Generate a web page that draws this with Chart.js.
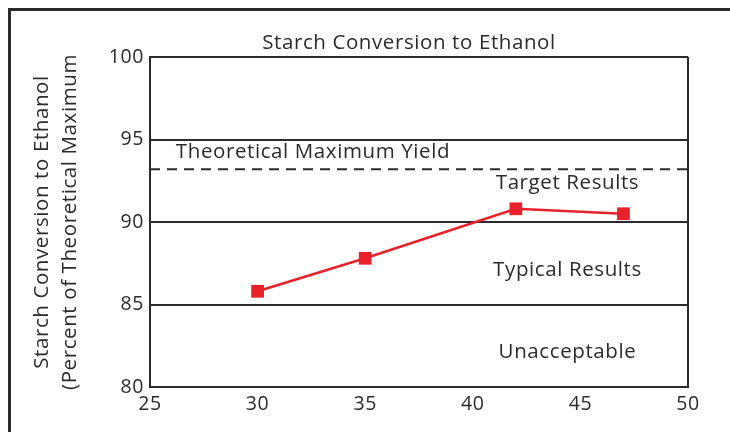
<!DOCTYPE html>
<html>
<head>
<meta charset="utf-8">
<script src="https://cdn.jsdelivr.net/npm/chart.js"></script>
<style>
  html, body { margin: 0; padding: 0; background: #fff; overflow: hidden; }
  #wrap { position: relative; width: 730px; height: 432px; }
  #frame { position: absolute; left: 8px; top: 8px; width: 780px; height: 480px; border: 3px solid #2b2b2b; box-sizing: border-box; }
  canvas { position: absolute; left: 0; top: 0; }
</style>
</head>
<body>
<div id="wrap">
  <div id="frame"></div>
  <canvas id="chart" width="730" height="432"></canvas>
</div>
<script>
// data
const xValues = [30, 35, 42, 47];
const conversion = [85.8, 87.8, 90.8, 90.5];
const theoreticalMax = 93.2;
const xRange = [25, 50];
const xTicks = [25, 30, 35, 40, 45, 50];
const yTicks = [80, 85, 90, 95, 100];
const zoneLabels = ['Theoretical Maximum Yield', 'Target Results', 'Typical Results', 'Unacceptable'];

const FONT = '"Open Sans", sans-serif';
const INK = '#2b2b2b';

// where the zone labels sit, in data units
const zoneSpots = [
  { x: 26.2, y: 94.25, align: 'left' },
  { x: 44.4, y: 92.35, align: 'center' },
  { x: 44.4, y: 87.1, align: 'center' },
  { x: 44.4, y: 82.1, align: 'center' }
];

const labelsPlugin = {
  id: 'zoneLabels',
  beforeDraw(chart) {
    // the original face is a bit wider than Open Sans
    chart.ctx.letterSpacing = '0.6px';
  },
  afterDatasetsDraw(chart) {
    const { ctx, chartArea, scales } = chart;
    ctx.save();
    ctx.fillStyle = INK;
    ctx.font = '20.5px ' + FONT;
    ctx.textBaseline = 'middle';
    zoneLabels.forEach((txt, i) => {
      const s = zoneSpots[i];
      ctx.textAlign = s.align;
      ctx.fillText(txt, scales.x.getPixelForValue(s.x), scales.y.getPixelForValue(s.y));
    });
    // chart title
    ctx.textAlign = 'center';
    ctx.fillText('Starch Conversion to Ethanol', (chartArea.left + chartArea.right) / 2 - 10, 43);
    ctx.restore();
  }
};

const ctx = document.getElementById('chart').getContext('2d');
new Chart(ctx, {
  type: 'line',
  data: {
    datasets: [
      {
        data: xValues.map((x, i) => ({ x: x, y: conversion[i] })),
        borderColor: '#e8212b',
        backgroundColor: '#e8212b',
        borderWidth: 2.5,
        pointStyle: 'rect',
        pointRadius: 9,
        pointBorderWidth: 0
      },
      {
        data: xRange.map(x => ({ x: x, y: theoreticalMax })),
        borderColor: INK,
        borderWidth: 2,
        borderDash: [10, 7],
        pointRadius: 0
      }
    ]
  },
  options: {
    responsive: false,
    animation: false,
    layout: { padding: { top: 57, right: 42, left: 0, bottom: 0 } },
    plugins: { legend: { display: false }, tooltip: { enabled: false } },
    scales: {
      x: {
        type: 'linear',
        min: xRange[0],
        max: xRange[1],
        afterBuildTicks: scale => { scale.ticks = xTicks.map(v => ({ value: v })); },
        afterFit: scale => { scale.height = 45; },
        ticks: { color: INK, font: { family: FONT, size: 19.5 }, padding: 6 },
        grid: {
          drawTicks: false,
          lineWidth: 2,
          color: c => (c.tick && (c.tick.value === xRange[0] || c.tick.value === xRange[1])) ? INK : 'transparent'
        },
        border: { color: INK, width: 2 }
      },
      y: {
        min: 80,
        max: 100,
        afterBuildTicks: scale => { scale.ticks = yTicks.map(v => ({ value: v })); },
        afterFit: scale => { scale.width = 150; },
        ticks: { color: INK, font: { family: FONT, size: 19.5 }, padding: 6 },
        grid: { drawTicks: false, lineWidth: 2, color: INK },
        border: { color: INK, width: 2 },
        title: {
          display: true,
          text: ['Starch Conversion to Ethanol', '(Percent of Theoretical Maximum'],
          color: INK,
          font: { family: FONT, size: 20.5, lineHeight: 1.38 },
          padding: { top: 28 }
        }
      }
    }
  },
  plugins: [labelsPlugin]
});
</script>
</body>
</html>
